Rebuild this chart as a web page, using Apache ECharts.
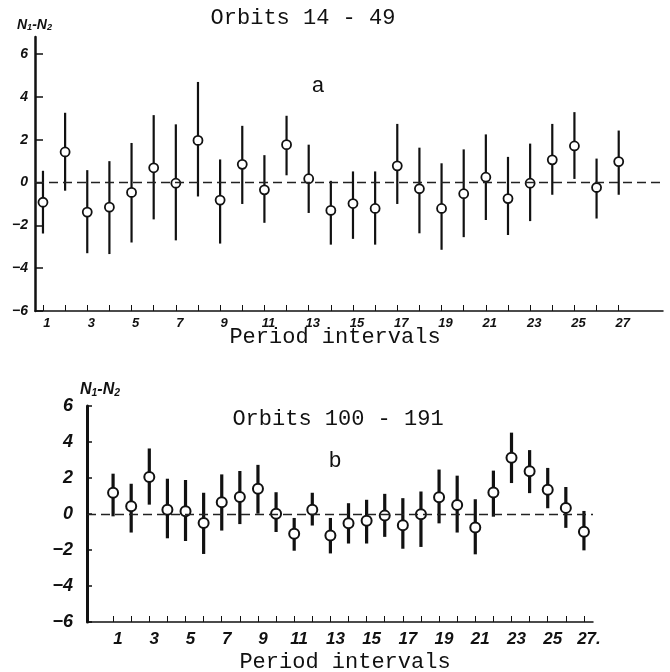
<!DOCTYPE html>
<html>
<head>
<meta charset="utf-8">
<script src="https://cdn.jsdelivr.net/npm/echarts@6/dist/echarts.min.js"></script>
<style>
  html, body { margin: 0; padding: 0; background: #fff; }
  .chart { width: 670px; height: 672px; }
</style>
</head>
<body>
<div class="chart"></div>
<script>
var intervals = [1, 2, 3, 4, 5, 6, 7, 8, 9, 10, 11, 12, 13, 14, 15, 16, 17, 18, 19, 20, 21, 22, 23, 24, 25, 26, 27];
var xLabels = [1, 3, 5, 7, 9, 11, 13, 15, 17, 19, 21, 23, 25, 27];
var yTicks = [-6, -4, -2, 0, 2, 4, 6];

// panel a: orbits 14 - 49
var aMean = [-0.92, 1.43, -1.38, -1.15, -0.46, 0.69, -0.03, 1.97, -0.82, 0.85, -0.34, 1.77, 0.18, -1.3, -0.98, -1.21, 0.78, -0.29, -1.21, -0.52, 0.25, -0.75, -0.03, 1.06, 1.71, -0.23, 0.98];
var aHigh = [0.55, 3.26, 0.58, 1.0, 1.85, 3.15, 2.72, 4.7, 1.08, 2.65, 1.28, 3.12, 1.77, 0.08, 0.52, 0.52, 2.74, 1.63, 0.9, 1.55, 2.25, 1.2, 1.82, 2.74, 3.29, 1.12, 2.43];
var aLow = [-2.38, -0.38, -3.3, -3.34, -2.8, -1.72, -2.7, -0.65, -2.85, -1.0, -1.88, 0.34, -1.42, -2.9, -2.63, -2.9, -1.0, -2.37, -3.14, -2.55, -1.75, -2.45, -1.8, -0.57, 0.17, -1.68, -0.57];

// panel b: orbits 100 - 191
var bMean = [1.18, 0.43, 2.06, 0.24, 0.15, -0.5, 0.65, 0.95, 1.4, 0.02, -1.1, 0.24, -1.2, -0.52, -0.37, -0.09, -0.62, -0.02, 0.93, 0.5, -0.75, 1.2, 3.12, 2.37, 1.35, 0.34, -0.99];
var bHigh = [2.24, 1.68, 3.64, 1.96, 1.89, 1.18, 2.2, 2.39, 2.73, 1.21, -0.22, 1.18, -0.22, 0.6, 0.79, 1.12, 0.88, 1.25, 2.47, 2.13, 0.82, 2.41, 4.52, 3.55, 2.56, 1.5, 0.17];
var bLow = [-0.13, -1.03, 0.52, -1.35, -1.5, -2.22, -0.92, -0.56, 0.02, -1.0, -2.04, -0.64, -2.19, -1.64, -1.64, -1.27, -1.93, -1.83, -0.52, -1.03, -2.24, -0.15, 1.72, 1.16, 0.32, -0.77, -2.02];

(function () {
  var myChart = echarts.init(document.querySelector(".chart"));

  var pairs = function (mean) {
    return intervals.map(function (x, i) { return [x, mean[i]]; });
  };
  var bars = function (low, high) {
    return intervals.map(function (x, i) { return [x, low[i], high[i]]; });
  };
  var barRenderer = function (width) {
    return function (params, api) {
      var lo = api.coord([api.value(0), api.value(1)]);
      var hi = api.coord([api.value(0), api.value(2)]);
      return {
        type: "line",
        shape: { x1: lo[0], y1: lo[1], x2: hi[0], y2: hi[1] },
        style: { stroke: "#111", lineWidth: width },
      };
    };
  };
  var minus = function (v) {
    return String(v).replace("-", "\u2212");
  };
  var ylab = "{n|N}{s|1}{n|-N}{s|2}";

  var xAxisFor = function (gi, min, max, size, pad) {
    return {
      type: "value",
      gridIndex: gi,
      min: min,
      max: max,
      splitLine: { show: false },
      axisLine: { onZero: false, lineStyle: { color: "#111", width: 1.5 } },
      axisTick: { inside: true, length: 6, customValues: intervals, lineStyle: { color: "#111" } },
      axisLabel: {
        customValues: xLabels,
        color: "#111",
        fontFamily: "Liberation Sans",
        fontStyle: "italic",
        fontWeight: "bold",
        fontSize: size,
        margin: gi === 0 ? 6 : 9,
        padding: [0, 0, 0, pad],
        formatter: function (v) {
          return gi === 1 && v === 27 ? "27." : String(v);
        },
      },
    };
  };
  var yAxisFor = function (gi, max, size, margin, width) {
    return {
      type: "value",
      gridIndex: gi,
      min: -6,
      max: max,
      splitLine: { show: false },
      axisLine: { onZero: false, lineStyle: { color: "#111", width: width } },
      axisTick: { inside: true, length: gi === 0 ? 8 : 5, customValues: yTicks, lineStyle: { color: "#111", width: 1.5 } },
      axisLabel: {
        customValues: yTicks,
        color: "#111",
        fontFamily: "Liberation Sans",
        fontStyle: "italic",
        fontWeight: "bold",
        fontSize: size,
        margin: margin,
        formatter: minus,
      },
    };
  };
  var zeroLine = {
    silent: true,
    symbol: "none",
    label: { show: false },
    lineStyle: { color: "#222", type: [9, 5], width: 1.3 },
    data: [{ yAxis: 0 }],
  };
  var mono = "22px 'Liberation Mono'";
  var rich = function (size) {
    return {
      n: { fontSize: size, fontStyle: "italic", fontWeight: "bold", fontFamily: "Liberation Sans", fill: "#111" },
      s: { fontSize: size * 0.65, fontStyle: "italic", fontWeight: "bold", fontFamily: "Liberation Sans", fill: "#111", padding: [size * 0.45, 0, 0, 0] },
    };
  };

  myChart.setOption({
    animation: false,
    backgroundColor: "#fff",
    grid: [
      { left: 35, right: 7, top: 37, bottom: 361 },
      { left: 87, right: 77, top: 406, bottom: 50 },
    ],
    xAxis: [xAxisFor(0, 0.64, 29, 13, 8), xAxisFor(1, -0.44, 27.5, 17, 10)],
    yAxis: [yAxisFor(0, 6.8, 14, 7, 2.5), yAxisFor(1, 6, 18, 14, 3)],
    graphic: [
      { type: "text", x: 303, y: 18, style: { text: "Orbits 14 - 49", font: mono, fill: "#111", textAlign: "center", textVerticalAlign: "middle" } },
      { type: "text", x: 318, y: 86, style: { text: "a", font: mono, fill: "#111", textAlign: "center", textVerticalAlign: "middle" } },
      { type: "text", x: 335, y: 337, style: { text: "Period intervals", font: mono, fill: "#111", textAlign: "center", textVerticalAlign: "middle" } },
      { type: "text", x: 338, y: 419, style: { text: "Orbits 100 - 191", font: mono, fill: "#111", textAlign: "center", textVerticalAlign: "middle" } },
      { type: "text", x: 335, y: 461, style: { text: "b", font: mono, fill: "#111", textAlign: "center", textVerticalAlign: "middle" } },
      { type: "text", x: 345, y: 662, style: { text: "Period intervals", font: mono, fill: "#111", textAlign: "center", textVerticalAlign: "middle" } },
      { type: "text", x: 17, y: 17, style: { text: ylab, rich: rich(14) } },
      { type: "text", x: 80, y: 381, style: { text: ylab, rich: rich(16) } },
    ],
    series: [
      {
        type: "custom",
        xAxisIndex: 0,
        yAxisIndex: 0,
        renderItem: barRenderer(2.2),
        data: bars(aLow, aHigh),
        z: 2,
      },
      {
        type: "scatter",
        xAxisIndex: 0,
        yAxisIndex: 0,
        data: pairs(aMean),
        symbol: "circle",
        symbolSize: 9,
        itemStyle: { color: "#fff", borderColor: "#111", borderWidth: 1.8, opacity: 1 },
        markLine: zeroLine,
        z: 3,
      },
      {
        type: "custom",
        xAxisIndex: 1,
        yAxisIndex: 1,
        renderItem: barRenderer(3.2),
        data: bars(bLow, bHigh),
        z: 2,
      },
      {
        type: "scatter",
        xAxisIndex: 1,
        yAxisIndex: 1,
        data: pairs(bMean),
        symbol: "circle",
        symbolSize: 10,
        itemStyle: { color: "#fff", borderColor: "#111", borderWidth: 2, opacity: 1 },
        markLine: zeroLine,
        z: 3,
      },
    ],
  });
  window.addEventListener("resize", function () {
    myChart.resize();
  });
})();
</script>
</body>
</html>
